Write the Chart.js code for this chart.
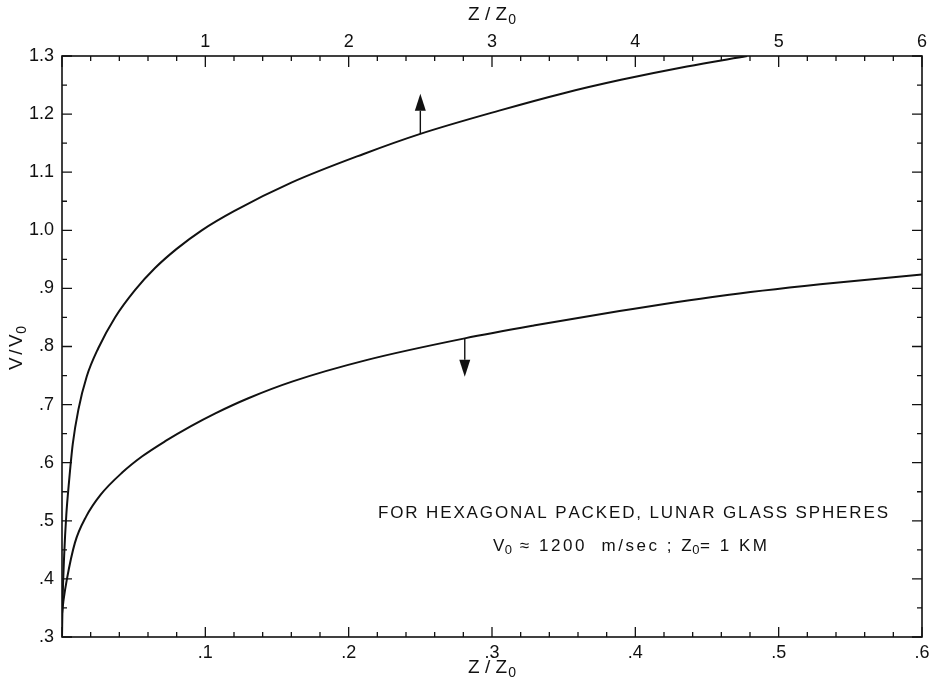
<!DOCTYPE html>
<html>
<head>
<meta charset="utf-8">
<script src="https://cdn.jsdelivr.net/npm/chart.js@4.4.1/dist/chart.umd.min.js"></script>
<style>
  html, body { margin: 0; padding: 0; background: #ffffff; }
  #wrap { width: 936px; height: 693px; position: relative; }
</style>
</head>
<body>
<div id="wrap"><canvas id="c" width="936" height="693"></canvas></div>
<script>
// ---- data ----
// upper curve: plotted against the TOP axis (Z/Z0 from 0 to 6)
const upperZ = [0.0, 0.004, 0.015, 0.03, 0.05, 0.075, 0.114, 0.172, 0.253, 0.37, 0.509, 0.649, 0.80, 0.975, 1.2, 1.6, 2.1, 2.5, 3.05, 3.5, 3.9, 4.36, 4.78];
const upperV = [0.30, 0.36, 0.44, 0.51, 0.57, 0.632, 0.691, 0.748, 0.797, 0.850, 0.897, 0.935, 0.968, 1.0, 1.033, 1.082, 1.131, 1.166, 1.206, 1.236, 1.259, 1.282, 1.300];
// lower curve: plotted against the BOTTOM axis (Z/Z0 from 0 to .6)
const lowerZ = [0.0, 0.0011, 0.0033, 0.009, 0.017, 0.027, 0.042, 0.056, 0.072, 0.09, 0.107, 0.13, 0.161, 0.213, 0.281, 0.329, 0.389, 0.459, 0.529, 0.6];
const lowerV = [0.34, 0.364, 0.398, 0.462, 0.508, 0.545, 0.583, 0.611, 0.637, 0.663, 0.685, 0.711, 0.740, 0.777, 0.814, 0.836, 0.861, 0.887, 0.907, 0.924];

// tick labels
const yTickLabels = ['.3', '.4', '.5', '.6', '.7', '.8', '.9', '1.0', '1.1', '1.2', '1.3'];
const bottomTickLabels = ['', '.1', '.2', '.3', '.4', '.5', '.6'];
const topTickLabels = ['', '1', '2', '3', '4', '5', '6'];

// arrows telling which axis each curve uses: [x, fromV, toV]
const upArrow = [2.5, 1.166, 1.235];
const downArrow = [0.281, 0.814, 0.748];

// annotation text
const noteLine1 = 'FOR HEXAGONAL PACKED, LUNAR GLASS SPHERES';
const noteLine2 = [['V', false], ['0', true], [' \u2248 1200  m/sec ; Z', false], ['0', true], ['= 1 KM', false]];

// ---- chart ----
const INK = '#111111';
const FONT = '"Liberation Sans", Arial, sans-serif';

function toPts(xs, ys) { return xs.map((x, i) => ({ x: x, y: ys[i] })); }

function drawRich(ctx, parts, cx, cy, size, targetWidth) {
  ctx.save();
  ctx.fillStyle = INK;
  ctx.textBaseline = 'middle';
  ctx.textAlign = 'left';
  const chars = [];
  parts.forEach(p => { for (const ch of p[0]) chars.push([ch, p[1]]); });
  const w = chars.map(c => {
    ctx.font = (c[1] ? Math.round(size * 0.75) : size) + 'px ' + FONT;
    return ctx.measureText(c[0]).width;
  });
  const raw = w.reduce((a, b) => a + b, 0);
  // weights of the gaps: small gap before / after a subscript
  const gapW = chars.slice(0, -1).map((c, i) => (c[1] || chars[i + 1][1]) ? 0.2 : 1);
  const gsum = gapW.reduce((a, b) => a + b, 0);
  const sp = targetWidth ? Math.max(0, (targetWidth - raw) / Math.max(1, gsum)) : 0;
  let x = cx - (raw + sp * gsum) / 2;
  chars.forEach((c, i) => {
    ctx.font = (c[1] ? Math.round(size * 0.75) : size) + 'px ' + FONT;
    const dy = c[1] ? size * 0.28 : 0;
    ctx.fillText(c[0], x, cy + dy);
    x += w[i] + (i < gapW.length ? sp * gapW[i] : 0);
  });
  ctx.restore();
}

const framePlugin = {
  id: 'frame',
  afterDraw(chart) {
    const ctx = chart.ctx;
    const a = chart.chartArea;
    const sx = chart.scales.x, sx2 = chart.scales.x2, sy = chart.scales.y;
    ctx.save();
    ctx.strokeStyle = INK;
    ctx.lineWidth = 1.6;
    ctx.strokeRect(a.left, a.top, a.right - a.left, a.bottom - a.top);
    ctx.lineWidth = 1.3;
    ctx.beginPath();
    // bottom axis ticks every .02, major every .1
    for (let i = 0; i <= 30; i++) {
      const px = sx.getPixelForValue(i * 0.02);
      const len = i % 5 === 0 ? 10 : 5;
      ctx.moveTo(px, a.bottom); ctx.lineTo(px, a.bottom - len);
    }
    // top axis ticks every .2, major every 1
    for (let i = 0; i <= 30; i++) {
      const px = sx2.getPixelForValue(i * 0.2);
      const len = i % 5 === 0 ? 11 : 5;
      ctx.moveTo(px, a.top); ctx.lineTo(px, a.top + len);
    }
    // y ticks every .05, major every .1 (left and right)
    for (let i = 0; i <= 20; i++) {
      const py = sy.getPixelForValue(0.3 + i * 0.05);
      const len = i % 2 === 0 ? 10 : 5;
      ctx.moveTo(a.left, py); ctx.lineTo(a.left + len, py);
      ctx.moveTo(a.right, py); ctx.lineTo(a.right - len, py);
    }
    ctx.stroke();

    // arrows
    function arrow(scaleX, arr) {
      const px = scaleX.getPixelForValue(arr[0]);
      const p0 = sy.getPixelForValue(arr[1]);
      const p1 = sy.getPixelForValue(arr[2]);
      const dir = p1 < p0 ? -1 : 1;
      const head = 17;
      ctx.beginPath();
      ctx.lineWidth = 1.4;
      ctx.moveTo(px, p0); ctx.lineTo(px, p1 - dir * head);
      ctx.stroke();
      ctx.beginPath();
      ctx.moveTo(px, p1);
      ctx.lineTo(px - 5.5, p1 - dir * head);
      ctx.lineTo(px + 5.5, p1 - dir * head);
      ctx.closePath();
      ctx.fillStyle = INK;
      ctx.fill();
    }
    arrow(sx2, upArrow);
    arrow(sx, downArrow);

    // axis titles
    drawRich(ctx, [['Z', false], ['/', false], ['Z', false], ['0', true]], 492, 15, 19, 48);
    drawRich(ctx, [['Z', false], ['/', false], ['Z', false], ['0', true]], 492, 668, 19, 48);
    ctx.save();
    ctx.translate(17, 348);
    ctx.rotate(-Math.PI / 2);
    drawRich(ctx, [['V', false], ['/', false], ['V', false], ['0', true]], 0, 0, 19, 44);
    ctx.restore();

    // annotation
    drawRich(ctx, [[noteLine1, false]], 633, 513, 17, 510);
    drawRich(ctx, noteLine2, 630, 546, 17, 274);
    ctx.restore();
  }
};

const tickFont = { family: FONT, size: 18 };

new Chart(document.getElementById('c'), {
  type: 'scatter',
  data: {
    datasets: [
      {
        label: 'upper (top axis)',
        data: toPts(upperZ, upperV),
        xAxisID: 'x2', yAxisID: 'y',
        showLine: true, borderColor: INK, borderWidth: 2, pointRadius: 0,
        cubicInterpolationMode: 'monotone', fill: false
      },
      {
        label: 'lower (bottom axis)',
        data: toPts(lowerZ, lowerV),
        xAxisID: 'x', yAxisID: 'y',
        showLine: true, borderColor: INK, borderWidth: 2, pointRadius: 0,
        cubicInterpolationMode: 'monotone', fill: false
      }
    ]
  },
  options: {
    responsive: false,
    animation: false,
    devicePixelRatio: 1,
    layout: { padding: 0 },
    plugins: { legend: { display: false }, tooltip: { enabled: false } },
    scales: {
      x: {
        type: 'linear', position: 'bottom', min: 0, max: 0.6,
        afterFit(s) { s.height = 56; },
        grid: { display: false, drawTicks: false },
        border: { display: false },
        ticks: {
          stepSize: 0.1, font: tickFont, color: INK, padding: 5, maxRotation: 0,
          callback: v => bottomTickLabels[Math.round(v * 10)] ?? ''
        }
      },
      x2: {
        type: 'linear', position: 'top', min: 0, max: 6,
        afterFit(s) { s.height = 56; },
        grid: { display: false, drawTicks: false },
        border: { display: false },
        ticks: {
          stepSize: 1, font: tickFont, color: INK, padding: 3, maxRotation: 0,
          callback: v => topTickLabels[Math.round(v)] ?? ''
        }
      },
      y: {
        type: 'linear', position: 'left', min: 0.3, max: 1.3,
        afterFit(s) { s.width = 62; },
        grid: { display: false, drawTicks: false },
        border: { display: false },
        ticks: {
          stepSize: 0.1, font: tickFont, color: INK, padding: 8,
          callback: v => yTickLabels[Math.round(v * 10) - 3] ?? ''
        }
      },
      y2: {
        type: 'linear', position: 'right', min: 0.3, max: 1.3,
        afterFit(s) { s.width = 14; },
        grid: { display: false, drawTicks: false },
        border: { display: false },
        ticks: { display: false }
      }
    }
  },
  plugins: [framePlugin]
});
</script>
</body>
</html>
